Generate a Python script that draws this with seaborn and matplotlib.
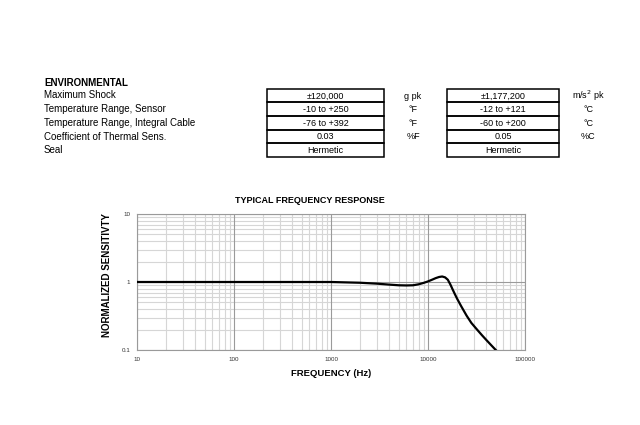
import matplotlib
matplotlib.use("Agg")
import matplotlib.pyplot as plt
import seaborn as sns
import pandas as pd
import numpy as np
from matplotlib.patches import Rectangle
from matplotlib.ticker import FixedLocator, FixedFormatter, LogLocator, NullFormatter

# ---------------- data ----------------
section_title = "ENVIRONMENTAL"
row_labels = ["Maximum Shock", "Temperature Range, Sensor",
              "Temperature Range, Integral Cable", "Coefficient of Thermal Sens.", "Seal"]
english_values = ["±120,000", "-10 to +250", "-76 to +392", "0.03", "Hermetic"]
english_units = ["g pk", "°F", "°F", "%F", ""]
si_values = ["±1,177,200", "-12 to +121", "-60 to +200", "0.05", "Hermetic"]
si_units = ["m/s$^2$ pk", "°C", "°C", "%C", ""]

freq_hz = [10, 100, 1000, 2000, 3000, 4000, 5000, 6000, 7000, 8000, 9000, 10000,
           11000, 12000, 13000, 14000, 15000, 16000, 17000, 18000, 19000, 20000,
           22000, 25000, 28000, 32000, 36000, 40000, 45000, 51000]
sensitivity = [1.0, 1.0, 1.0, 0.975, 0.945, 0.915, 0.895, 0.89, 0.895, 0.925, 0.97, 1.02,
               1.08, 1.14, 1.185, 1.205, 1.17, 1.08, 0.92, 0.77, 0.655, 0.565,
               0.44, 0.32, 0.25, 0.20, 0.165, 0.14, 0.117, 0.097]
x_ticks = [10, 100, 1000, 10000, 100000]
x_tick_labels = ["10", "100", "1000", "10000", "100000"]
y_ticks = [0.1, 1, 10]
y_tick_labels = ["0.1", "1", "10"]

# ---------------- figure ----------------
sns.set_theme(style="white")
plt.rcParams['font.family'] = ['Liberation Sans', 'DejaVu Sans']

W, H = 640, 425
fig = plt.figure(figsize=(W / 100, H / 100), dpi=100)
fig.patch.set_facecolor("white")

# overlay axes in pixel coordinates for the table
ov = fig.add_axes([0, 0, 1, 1])
ov.set_xlim(0, W)
ov.set_ylim(H, 0)
ov.axis("off")

ov.text(44, 82.5, section_title, fontsize=7, fontweight="bold", va="center", ha="left", color="black")
row_top = 88.7
row_h = 13.6
label_y = [95, 109, 123, 136.5, 150]
for i, lab in enumerate(row_labels):
    ov.text(44, label_y[i], lab, fontsize=7, va="center", ha="left", color="black")
    y0 = row_top + i * row_h
    yc = y0 + row_h / 2 + 0.5
    # english column
    ov.add_patch(Rectangle((267, y0), 117, row_h, fill=False, edgecolor="black", lw=1.1))
    ov.text(325.5, yc, english_values[i], fontsize=6.5, ha="center", va="center", color="black")
    if english_units[i]:
        ov.text(413, yc, english_units[i], fontsize=6.5, ha="center", va="center", color="black")
    # SI column
    ov.add_patch(Rectangle((447, y0), 112, row_h, fill=False, edgecolor="black", lw=1.1))
    ov.text(503, yc, si_values[i], fontsize=6.5, ha="center", va="center", color="black")
    if si_units[i]:
        ov.text(588, yc, si_units[i], fontsize=6.5, ha="center", va="center", color="black")

# ---------------- frequency response ----------------
left, right, top, bottom = 137, 525, 214, 350
ax = fig.add_axes([left / W, (H - bottom) / H, (right - left) / W, (bottom - top) / H])
df = pd.DataFrame({"Frequency": freq_hz, "Sensitivity": sensitivity})
sns.lineplot(data=df, x="Frequency", y="Sensitivity", ax=ax, color="black", lw=1.6, zorder=5)
ax.set_xscale("log")
ax.set_yscale("log")
ax.set_xlim(10, 100000)
ax.set_ylim(0.1, 10)

ax.xaxis.set_major_locator(FixedLocator(x_ticks))
ax.xaxis.set_major_formatter(FixedFormatter(x_tick_labels))
ax.yaxis.set_major_locator(FixedLocator(y_ticks))
ax.yaxis.set_major_formatter(FixedFormatter(y_tick_labels))
ax.xaxis.set_minor_locator(LogLocator(base=10, subs=np.arange(2, 10)))
ax.yaxis.set_minor_locator(LogLocator(base=10, subs=np.arange(2, 10)))
ax.xaxis.set_minor_formatter(NullFormatter())
ax.yaxis.set_minor_formatter(NullFormatter())

# minor grid from the axes, major grid drawn on top so it stays solid
ax.grid(which="major", visible=False)
ax.grid(which="minor", color="#d6d6d6", lw=0.8)
ax.set_axisbelow(True)
for xv in x_ticks:
    ax.axvline(xv, color="#9a9a9a", lw=0.8, zorder=1)
for yv in y_ticks:
    ax.axhline(yv, color="#9a9a9a", lw=0.8, zorder=1)
ax.tick_params(which="both", length=0, labelsize=4.5, colors="#333333", pad=5)
for s in ax.spines.values():
    s.set_color("#9a9a9a")
    s.set_linewidth(0.8)

ax.set_xlabel("FREQUENCY (Hz)", fontsize=6.8, fontweight="bold", labelpad=5, color="black")
ax.set_ylabel("NORMALIZED SENSITIVTY", fontsize=7.0, fontweight="bold", labelpad=5, color="black")
ax.yaxis.set_label_coords(-0.064, 0.55)
fig.text(310 / W, 1 - 201 / H, "TYPICAL FREQUENCY RESPONSE", fontsize=6.5, fontweight="bold",
         ha="center", va="center", color="black")

fig.savefig("out.png", dpi=100, facecolor="white")
